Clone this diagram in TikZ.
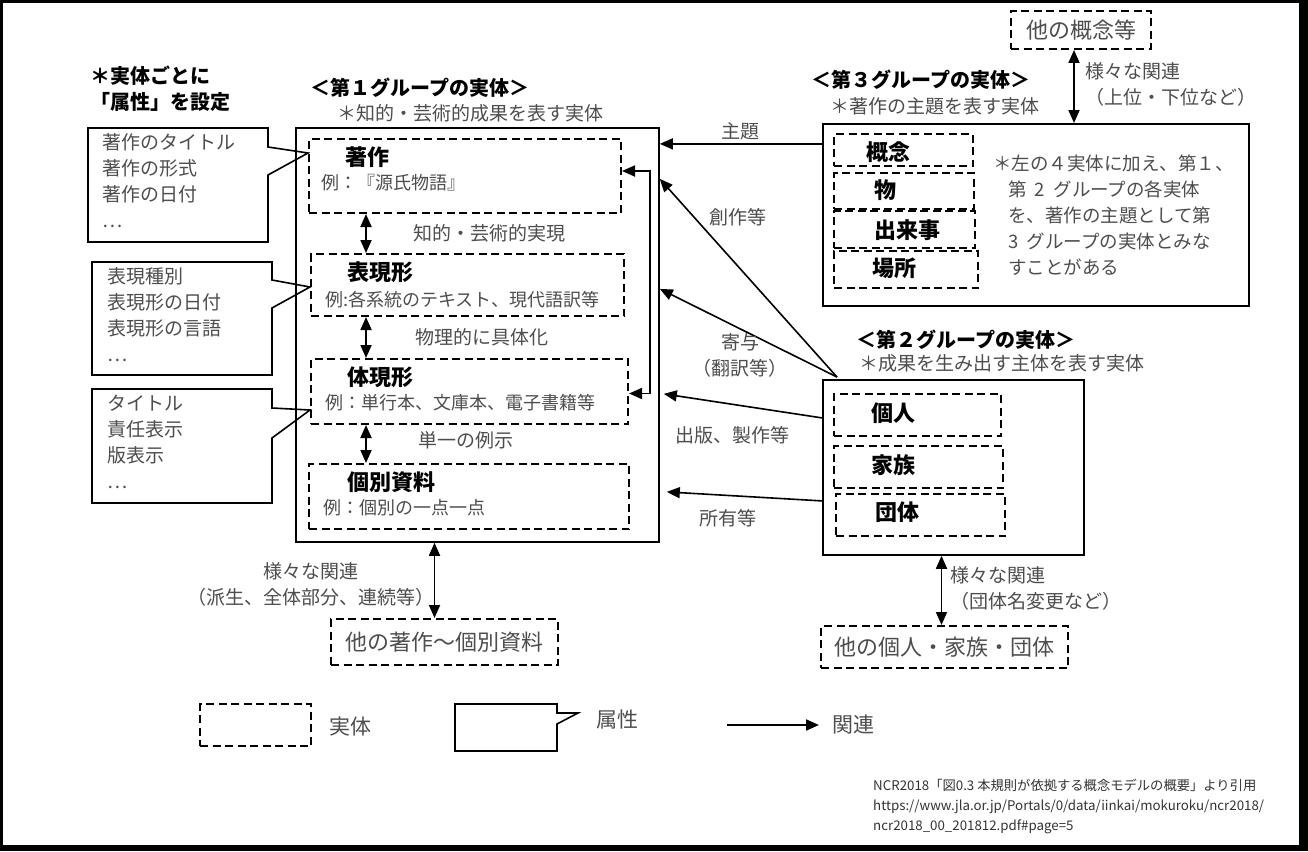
\documentclass[tikz,border=0pt]{standalone}
\usepackage{fontspec}
\setmainfont{Noto Sans CJK JP}
\usetikzlibrary{arrows.meta}
\definecolor{txtgray}{HTML}{4D4D4D}

\begin{document}
\begin{tikzpicture}[x=1pt, y=-1pt,
    ent/.style = {draw, dash pattern=on 8pt off 4.5pt, line width=2pt, anchor=north west, inner sep=0pt},
    grp/.style = {draw, line width=1.8pt, anchor=north west, inner sep=0pt},
    ttl/.style = {font=\bfseries\fontsize{22}{26}\selectfont, anchor=west, inner sep=0pt},
    hd/.style = {font=\bfseries\fontsize{20}{26}\selectfont, inner sep=0pt},
    txt/.style = {text=txtgray, font=\fontsize{19}{26}\selectfont, inner sep=0pt},
    exm/.style = {txt, font=\fontsize{18}{24}\selectfont, anchor=west},
    big/.style = {text=txtgray, font=\fontsize{22}{26}\selectfont},
    callout/.style = {draw, line width=1.6pt},
    dbl/.style = {{Triangle[length=13pt,width=11pt]}-{Triangle[length=13pt,width=11pt]}, line width=1.8pt},
    arr/.style = {-{Triangle[length=13pt,width=11pt]}, line width=1.6pt}]

    % frame
    \fill[black] (0,0) rectangle (1308,851);
    \fill[white] (3,3) rectangle (1299,845);
    \useasboundingbox (0,0) rectangle (1308,851);

    % group 1
    \node[grp, minimum width=363pt, minimum height=414pt] (g1) at (295,127) {};
    \node[hd] (g1h) at (420,88) {＜第１グループの実体＞};
    \node[txt] (g1s) at (470,113) {＊知的・芸術的成果を表す実体};

    \node[ent, minimum width=312pt, minimum height=74pt] (wk) at (308,138) {};
    \node[ttl] (wkT) at (345,157) {著作};
    \node[exm] (wkE) at (321,183) {例：『源氏物語』};

    \node[ent, minimum width=313pt, minimum height=62pt] (ex) at (310,253) {};
    \node[ttl] (exT) at (347,272) {表現形};
    \node[exm] (exE) at (325,300) {例:各系統のテキスト、現代語訳等};

    \node[ent, minimum width=317pt, minimum height=65pt] (mf) at (310,358) {};
    \node[ttl] (mfT) at (347,377) {体現形};
    \node[exm] (mfE) at (325,403) {例：単行本、文庫本、電子書籍等};

    \node[ent, minimum width=320pt, minimum height=65pt] (it) at (308,463) {};
    \node[ttl] (itT) at (347,482) {個別資料};
    \node[exm] (itE) at (323,508) {例：個別の一点一点};

    \draw[dbl] ([xshift=58pt]wk.south west) -- ([xshift=56pt]ex.north west) node[txt, midway, right=47pt] {知的・芸術的実現};
    \draw[dbl] ([xshift=56pt]ex.south west) -- ([xshift=56pt]mf.north west) node[txt, midway, right=49pt] {物理的に具体化};
    \draw[dbl] ([xshift=56pt]mf.south west) -- ([xshift=58pt]it.north west) node[txt, midway, right=52pt, yshift=4pt] {単一の例示};
    \draw[dbl] ([yshift=-2pt]mf.east) -- ++(21,0) |- ([yshift=5pt]wk.east);

    % attributes
    \node[hd, anchor=north west, align=left] (ath) at (90,66) {＊実体ごとに\\「属性」を設定};
    \draw[callout] (88,128) -- (268,128) -- (268,147) -- (308,153) -- (268,175) -- (268,242) -- (88,242) -- cycle;
    \node[txt, anchor=north west, align=left] (at1) at (102,133) {著作のタイトル\\著作の形式\\著作の日付\\…};
    \draw[callout] (92,262) -- (272,262) -- (272,280) -- (310,287) -- (272,308) -- (272,375) -- (92,375) -- cycle;
    \node[txt, anchor=north west, align=left] (at2) at (107,267) {表現種別\\表現形の日付\\表現形の言語\\…};
    \draw[callout] (92,389) -- (272,389) -- (272,408) -- (310,410) -- (272,438) -- (272,503) -- (92,503) -- cycle;
    \node[txt, anchor=north west, align=left] (at3) at (107,395) {タイトル\\責任表示\\版表示\\…};

    % group 3
    \node[grp, minimum width=426pt, minimum height=182pt] (g3) at (822,123) {};
    \node[hd] (g3h) at (921,80) {＜第３グループの実体＞};
    \node[txt] (g3s) at (935,106) {＊著作の主題を表す実体};
    \node[ent, minimum width=139pt, minimum height=32pt] (cp) at (833,133) {};
    \node[ttl] (cpT) at (866,152) {概念};
    \node[ent, minimum width=140pt, minimum height=36pt] (ob) at (833,172) {};
    \node[ttl] (obT) at (874,190) {物};
    \node[ent, minimum width=141pt, minimum height=37pt] (ev) at (833,210) {};
    \node[ttl] (evT) at (874,230) {出来事};
    \node[ent, minimum width=144pt, minimum height=37pt] (pl) at (833,250) {};
    \node[ttl] (plT) at (872,268) {場所};
    \node[txt, anchor=north west, align=left, font=\fontsize{18.5}{26}\selectfont] (g3n) at (993,155)
        {＊左の４実体に加え、第１、\\\hspace{15pt}第 \ 2 \ グループの各実体\\\hspace{15pt}を、著作の主題として第\\\hspace{15pt}3 \ グループの実体とみな\\\hspace{15pt}すことがある};

    \node[ent, minimum width=140pt, minimum height=38pt, big] (oc) at (1010,10) {他の概念等};
    \draw[dbl] ([xshift=-7pt]oc.south) -- ([xshift=-7pt]oc.south |- g3.north);
    \node[txt, anchor=north west, align=left] (ocL) at (1085,62) {様々な関連\\（上位・下位など）};

    % group 2
    \node[grp, minimum width=261pt, minimum height=175pt] (g2) at (822,379) {};
    \node[hd] (g2h) at (966,340) {＜第２グループの実体＞};
    \node[txt] (g2s) at (1002,363) {＊成果を生み出す主体を表す実体};
    \node[ent, minimum width=167pt, minimum height=42pt] (pe) at (833,393) {};
    \node[ttl] (peT) at (871,413) {個人};
    \node[ent, minimum width=169pt, minimum height=42pt] (fa) at (833,445) {};
    \node[ttl] (faT) at (871,465) {家族};
    \node[ent, minimum width=169pt, minimum height=42pt] (co) at (835,493) {};
    \node[ttl] (coT) at (875,512) {団体};

    \node[ent, minimum width=247pt, minimum height=42pt, big] (op) at (820,625) {他の個人・家族・団体};
    \draw[dbl] ([xshift=-3pt]op.north) -- ([xshift=-3pt]op.north |- g2.south);
    \node[txt, anchor=north west, align=left] (opL) at (950,566) {様々な関連\\（団体名変更など）};

    % relations to group 1
    \draw[arr] ([yshift=71pt]g3.west) -- ([yshift=71pt]g3.west -| g1.east) node[txt, midway, above=3pt] {主題};
    \coordinate (cv) at ([xshift=15pt, yshift=2pt]g2.north west);
    \draw[arr] (cv) -- ([yshift=156pt]g1.east);
    \node[txt] (lbC) at (738,217) {創作等};
    \draw[arr] (cv) -- ([yshift=46pt]g1.east);
    \node[txt, align=center] (lbK) at (740,355) {寄与\\（翻訳等）};
    \draw[arr] ([yshift=49.5pt]g2.west) -- ([xshift=4pt, yshift=-59pt]g1.east);
    \node[txt] (lbP) at (732,435) {出版、製作等};
    \draw[arr] ([yshift=-33.5pt]g2.west) -- ([xshift=7pt, yshift=-157pt]g1.east);
    \node[txt] (lbO) at (728,518) {所有等};

    \node[ent, minimum width=227pt, minimum height=46pt, big] (ow) at (330,618) {他の著作～個別資料};
    \draw[dbl] ([xshift=-10pt]ow.north) -- ([xshift=-10pt]ow.north |- g1.south);
    \node[txt, align=center] (owL) at (311,584) {様々な関連\\（派生、全体部分、連続等）};

    % legend
    \node[ent, minimum width=111pt, minimum height=42pt] (lgE) at (199,703) {};
    \node[txt, font=\fontsize{21}{26}\selectfont, anchor=west] (lgEt) at (329,727) {実体};
    \draw[callout] (455,704) -- (557,704) -- (557,713) -- (578,713) -- (557,724) -- (557,751) -- (455,751) -- cycle;
    \node[txt, font=\fontsize{21}{26}\selectfont, anchor=west] (lgAt) at (596,720) {属性};
    \node[txt, font=\fontsize{21}{26}\selectfont, anchor=west] (lgR) at (832,725) {関連};
    \draw[arr, line width=2pt] ([xshift=-105pt]lgR.west) -- ([xshift=-13pt]lgR.west);

    % source
    \node[anchor=north west, align=left, inner sep=0pt, text=black!80, font=\fontsize{13.3}{20}\selectfont] (cite) at (873,779)
        {NCR2018「図0.3 本規則が依拠する概念モデルの概要」より引用\\https://www.jla.or.jp/Portals/0/data/iinkai/mokuroku/ncr2018/\\ncr2018\_00\_201812.pdf\#page=5};

\end{tikzpicture}
\end{document}
